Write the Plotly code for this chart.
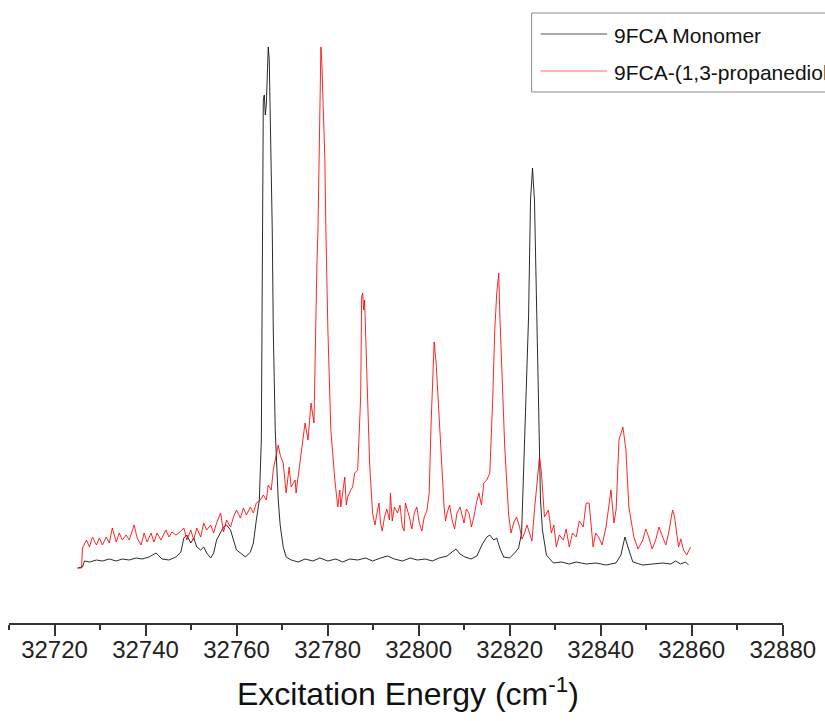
import plotly.graph_objects as go

# Excitation energy (cm^-1) and signal (arb. units)
monomer_energy = [
    32725.06, 32726.15, 32726.59, 32727.68, 32729.21, 32730.52, 32732.04, 32733.57, 32734.88, 32736.41,
    32737.94, 32739.25, 32740.77, 32742.30, 32743.61, 32745.14, 32746.67, 32747.76, 32748.41, 32749.07,
    32749.94, 32750.59, 32751.25, 32752.12, 32752.78, 32753.43, 32754.31, 32754.96, 32755.61, 32756.49,
    32757.14, 32757.80, 32758.67, 32759.32, 32759.98, 32760.85, 32761.95, 32763.04, 32763.69, 32764.34,
    32765.00, 32765.44, 32765.65, 32765.87, 32766.09, 32766.31, 32766.53, 32766.75, 32766.96, 32767.18,
    32767.40, 32767.62, 32767.84, 32768.06, 32768.49, 32769.15, 32769.58, 32770.24, 32770.89, 32771.98,
    32773.51, 32775.04, 32776.78, 32778.31, 32780.06, 32781.80, 32783.33, 32784.86, 32786.61, 32788.35,
    32789.88, 32791.62, 32793.15, 32794.68, 32796.43, 32798.17, 32799.70, 32801.45, 32802.98, 32804.51,
    32806.25, 32807.34, 32808.21, 32809.09, 32810.18, 32811.49, 32812.80, 32813.89, 32814.98, 32815.63,
    32816.51, 32817.16, 32817.82, 32818.69, 32820.00, 32821.09, 32821.96, 32822.62, 32823.27, 32823.71,
    32824.15, 32824.58, 32825.02, 32825.24, 32825.45, 32825.67, 32825.89, 32826.33, 32826.77, 32827.20,
    32828.07, 32829.60, 32831.35, 32833.10, 32834.62, 32836.81, 32838.99, 32841.17, 32843.35, 32844.44,
    32845.32, 32846.19, 32847.06, 32849.24, 32851.42, 32853.61, 32855.36, 32856.45, 32857.54, 32858.63,
    32859.29,
]
monomer_signal = [
    1, 2, 8, 7, 9, 8, 10, 8, 10, 9,
    11, 10, 12, 16, 10, 9, 12, 17, 31, 34,
    26, 31, 22, 19, 22, 16, 11, 16, 29, 37,
    42, 44, 39, 29, 19, 16, 12, 17, 26, 49,
    69, 129, 269, 469, 474, 454, 464, 489, 522, 509,
    459, 419, 339, 239, 139, 69, 44, 22, 12, 9,
    7, 10, 8, 11, 8, 10, 7, 10, 9, 11,
    8, 11, 13, 10, 8, 11, 9, 10, 8, 11,
    13, 17, 20, 15, 12, 10, 13, 24, 32, 34,
    29, 31, 21, 12, 11, 16, 21, 36, 119, 189,
    252, 369, 401, 384, 369, 319, 269, 136, 69, 39,
    14, 6, 7, 5, 7, 5, 6, 4, 6, 14,
    32, 19, 7, 4, 5, 6, 5, 8, 5, 7,
    4,
]

complex_energy = [
    32725.06, 32725.93, 32726.15, 32726.59, 32727.02, 32727.68, 32728.33, 32729.21, 32729.86, 32730.52,
    32731.39, 32732.04, 32732.70, 32733.57, 32734.23, 32734.88, 32735.75, 32736.41, 32737.50, 32738.15,
    32739.03, 32739.68, 32740.34, 32741.21, 32741.86, 32742.52, 32743.39, 32744.48, 32745.14, 32745.79,
    32746.67, 32747.32, 32748.41, 32749.07, 32749.94, 32750.59, 32751.25, 32752.12, 32752.78, 32753.43,
    32754.31, 32754.96, 32755.61, 32756.49, 32757.14, 32757.80, 32758.67, 32759.32, 32759.98, 32760.85,
    32761.51, 32762.16, 32763.04, 32763.69, 32764.34, 32765.22, 32765.87, 32766.53, 32766.96, 32767.62,
    32768.06, 32768.49, 32769.15, 32769.58, 32770.24, 32770.89, 32771.55, 32771.98, 32772.86, 32773.07,
    32773.95, 32774.60, 32775.04, 32775.69, 32776.35, 32777.00, 32777.22, 32777.66, 32777.88, 32778.09,
    32778.31, 32778.53, 32778.75, 32778.97, 32779.19, 32779.40, 32779.62, 32780.06, 32780.71, 32781.59,
    32782.24, 32782.68, 32782.90, 32783.77, 32784.42, 32785.08, 32785.95, 32786.61, 32787.26, 32787.48,
    32787.70, 32787.92, 32788.13, 32788.57, 32789.22, 32789.88, 32790.97, 32791.62, 32792.50, 32793.59,
    32793.81, 32794.68, 32795.34, 32796.43, 32797.08, 32797.96, 32799.05, 32800.14, 32801.23, 32802.32,
    32802.76, 32803.19, 32803.41, 32803.85, 32804.29, 32804.72, 32805.59, 32806.25, 32807.34, 32808.43,
    32809.96, 32811.05, 32812.14, 32813.23, 32814.32, 32814.98, 32815.63, 32816.29, 32816.72, 32817.16,
    32817.38, 32817.60, 32817.82, 32818.25, 32818.91, 32819.78, 32820.87, 32822.18, 32823.27, 32824.36,
    32825.45, 32826.55, 32826.98, 32827.64, 32828.51, 32829.16, 32830.26, 32831.79, 32833.10, 32834.62,
    32836.15, 32836.81, 32837.46, 32838.33, 32839.64, 32841.17, 32842.26, 32842.91, 32844.01, 32844.88,
    32845.54, 32846.19, 32847.28, 32849.24, 32850.55, 32852.08, 32853.61, 32854.92, 32855.79, 32856.23,
    32857.10, 32858.19, 32859.73,
]
complex_signal = [
    1, 1, 21, 26, 29, 22, 32, 24, 31, 24,
    32, 26, 41, 27, 36, 29, 34, 29, 44, 31,
    24, 36, 27, 36, 27, 36, 29, 39, 32, 37,
    34, 36, 41, 29, 39, 29, 41, 32, 46, 39,
    44, 36, 46, 56, 37, 49, 42, 52, 59, 51,
    61, 54, 62, 56, 66, 69, 74, 69, 84, 79,
    99, 109, 124, 114, 106, 76, 102, 82, 89, 76,
    106, 126, 146, 129, 166, 146, 206, 306, 339, 399,
    429, 522, 504, 474, 444, 409, 339, 239, 139, 89,
    62, 79, 62, 92, 72, 79, 96, 99, 172, 272,
    276, 259, 269, 199, 106, 56, 59, 46, 52, 49,
    76, 62, 56, 42, 66, 52, 56, 46, 52, 76,
    149, 206, 227, 206, 169, 129, 62, 56, 49, 56,
    46, 56, 52, 76, 86, 89, 96, 172, 239, 276,
    284, 296, 256, 206, 122, 54, 46, 42, 36, 36,
    59, 112, 96, 52, 59, 36, 22, 29, 22, 32,
    42, 66, 66, 22, 31, 42, 79, 46, 129, 142,
    119, 62, 32, 29, 32, 29, 32, 36, 59, 52,
    22, 19, 22,
]

# additional noise excursions read between the samples above (complex trace)
complex_extra_energy = [
    32783.3, 32784.1, 32785.5,
    32790.4, 32791.3, 32792.0, 32793.0, 32794.2, 32795.9, 32796.8, 32797.5, 32798.5, 32799.6,
    32800.7, 32801.8,
    32805.9, 32806.8, 32807.9, 32809.1, 32810.5, 32811.6, 32812.7, 32813.8,
    32820.3, 32821.5, 32822.7, 32823.8, 32824.9,
    32829.7, 32830.9, 32832.4, 32833.8, 32835.3, 32838.9, 32840.3, 32841.7, 32843.4,
    32848.2, 32849.9, 32851.3, 32852.8, 32854.3, 32857.6, 32858.9,
]
complex_extra_signal = [
    74, 64, 82,
    44, 66, 38, 60, 48, 64, 38, 60, 40, 62,
    38, 58,
    48, 64, 40, 62, 60, 42, 66, 64,
    36, 52, 30, 44, 28,
    44, 34, 40, 36, 48, 36, 24, 58, 60,
    20, 40, 20, 42, 24, 30, 14,
]

series_names = ["9FCA Monomer", "9FCA-(1,3-propanediol)"]
tick_values = [32720, 32740, 32760, 32780, 32800, 32820, 32840, 32860, 32880]
x_title = "Excitation Energy (cm<sup>-1</sup>)"

complex_points = sorted(zip(complex_energy + complex_extra_energy,
                            complex_signal + complex_extra_signal))
complex_x = [p[0] for p in complex_points]
complex_y = [p[1] for p in complex_points]

# layout geometry (pixels)
W, H = 825, 721
L, R, T, B = 9, 37, 20, 98
pw, ph = W - L - R, H - T - B


def px(x):
    return (x - L) / pw


def py(y):
    return (H - B - y) / ph


FONT = "Liberation Sans, Arial, sans-serif"

fig = go.Figure()
fig.add_trace(go.Scatter(x=monomer_energy, y=monomer_signal, mode="lines",
                         name=series_names[0], showlegend=False,
                         line=dict(color="rgba(20,20,20,0.9)", width=1)))
fig.add_trace(go.Scatter(x=complex_x, y=complex_y, mode="lines",
                         name=series_names[1], showlegend=False,
                         line=dict(color="rgba(255,0,0,0.85)", width=1)))

# legend drawn as box + sample lines + text
shapes = [
    dict(type="rect", xref="paper", yref="paper", x0=px(535), x1=px(840), y0=py(92), y1=py(13),
         line=dict(color="#8a8a8a", width=1), fillcolor="white", layer="below"),
    dict(type="line", xref="paper", yref="paper", x0=px(544), x1=px(611), y0=py(34), y1=py(34),
         line=dict(color="rgba(0,0,0,0.45)", width=1.5)),
    dict(type="line", xref="paper", yref="paper", x0=px(544), x1=px(611), y0=py(71), y1=py(71),
         line=dict(color="rgba(255,0,0,0.4)", width=1.5)),
]
annotations = [
    dict(xref="paper", yref="paper", x=px(616), y=py(36), text=series_names[0], showarrow=False,
         xanchor="left", yanchor="middle", font=dict(size=21, color="#111", family=FONT)),
    dict(xref="paper", yref="paper", x=px(616), y=py(72), text=series_names[1], showarrow=False,
         xanchor="left", yanchor="middle", font=dict(size=21, color="#111", family=FONT)),
    dict(xref="paper", yref="paper", x=px(411), y=py(692), text=x_title, showarrow=False,
         xanchor="center", yanchor="middle", font=dict(size=32, color="#111", family=FONT)),
]

fig.update_layout(
    width=W, height=H,
    margin=dict(l=L, r=R, t=T, b=B, pad=0),
    paper_bgcolor="white", plot_bgcolor="white",
    font=dict(family=FONT, color="#222"),
    shapes=shapes, annotations=annotations,
    xaxis=dict(
        range=[32710, 32880.05], tickvals=tick_values, tickformat="d",
        showline=True, linecolor="#333", linewidth=2, mirror=False,
        ticks="outside", ticklen=11, tickwidth=2, tickcolor="#333",
        minor=dict(dtick=10, tick0=32710, ticks="outside", ticklen=5, tickwidth=2, tickcolor="#333"),
        showgrid=False, zeroline=False,
        tickfont=dict(size=24, color="#222"),
        ticklabelstandoff=-7,
    ),
    yaxis=dict(visible=False, range=[-54, 549], showgrid=False, zeroline=False),
)

fig.write_html("out.html")
